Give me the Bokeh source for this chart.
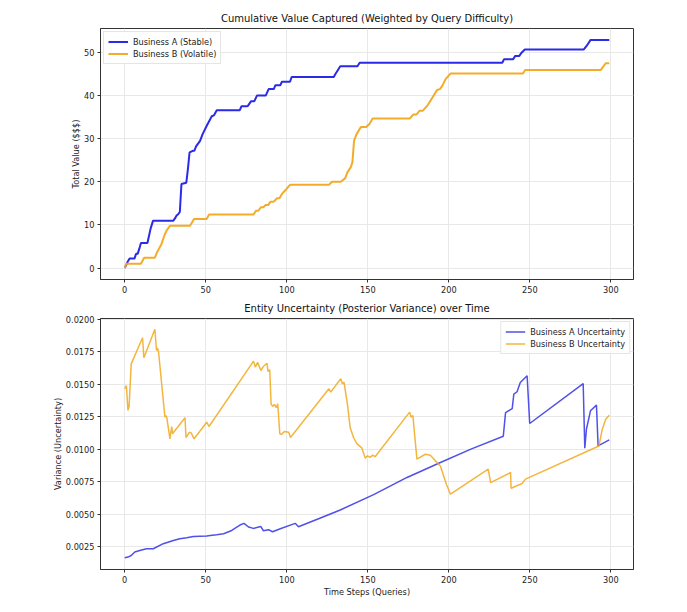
from bokeh.plotting import figure
from bokeh.layouts import column
from bokeh.models import Range1d, FixedTicker, PrintfTickFormatter, Legend, LegendItem
from bokeh.embed import file_html
from bokeh.resources import INLINE

# ---------------- data ----------------
steps_a = [0, 1, 2, 3, 6, 7, 8, 9, 10, 14, 15, 16, 17.5, 30, 31, 32, 33, 34, 35, 38,
           39, 40, 42, 43, 44, 46.5, 48, 50.6, 52, 53.7, 55, 56.8, 71, 72, 75, 76, 78,
           80, 81.6, 87, 88.8, 92, 93, 96, 97, 102, 103, 129, 130, 131, 133, 143.6, 145,
           233, 234, 239.6, 241, 243.5, 245, 246.9, 283.3, 285, 287.5, 299]
value_a = [0, 0.8, 1.6, 2.2, 2.2, 3.3, 3.3, 4.5, 5.8, 5.8, 7.5, 9.2, 11, 11, 11.5, 12.2,
           12.5, 13, 19.5, 19.8, 23, 26.8, 27.2, 27.2, 28.2, 29.5, 31, 33, 34, 35.2, 35.4,
           36.6, 36.6, 37.5, 37.5, 37.6, 38.7, 38.7, 40, 40, 41.5, 41.5, 42.4, 42.4, 43.2,
           43.2, 44.3, 44.3, 45, 45.6, 46.8, 46.8, 47.6, 47.6, 48.4, 48.4, 49.2, 49.2, 50,
           50.7, 50.7, 51.5, 52.9, 52.9]

steps_b = [0, 1, 10, 12, 18.6, 20, 22.7, 24.8, 26, 27.9, 40.3, 42.8, 50.6, 52, 79.5, 81,
           82.5, 84, 85.5, 87, 88.5, 90, 92, 94, 95.5, 97, 100, 102, 126, 128, 133.3, 136,
           137.4, 139.5, 140.5, 141.5, 143, 145.7, 149, 151, 153, 176, 178, 180, 182, 184,
           187, 190, 192.7, 194.5, 196, 198, 201, 245.8, 247, 293.7, 296.8, 299]
value_b = [0, 1.0, 1.0, 2.4, 2.4, 3.7, 5.6, 7.9, 8.8, 9.8, 9.8, 11.4, 11.4, 12.4, 12.4,
           13.3, 13.3, 14.1, 14.1, 14.6, 14.6, 15.4, 15.4, 16.2, 16.2, 17.2, 18.4, 19.3,
           19.3, 20, 20, 20.8, 22.2, 23.4, 24.5, 29.5, 31, 32.7, 32.7, 33.4, 34.7, 34.7,
           35.6, 35.6, 36.5, 36.5, 37.8, 39.6, 41.3, 41.5, 42.3, 43.8, 45.1, 45.1, 45.9,
           45.9, 47.5, 47.5]

var_steps_a = [0, 2, 4, 6.2, 9.3, 13.4, 17.6, 23.8, 30, 34, 38.2, 42.4, 50.6, 52.7, 56.8,
               61, 66, 71.1, 73.6, 76.4, 79.4, 83.9, 85.6, 88.7, 91.2, 96, 105.2, 107.2,
               120, 133, 153.6, 174.2, 194.8, 214, 233.6, 235, 239.1, 240.1, 242.1, 244.1,
               248.3, 249.9, 282.9, 283.9, 284.9, 287.4, 291.1, 292.1, 299]
var_a = [0.00163, 0.00168, 0.0018, 0.00207, 0.00219, 0.00232, 0.00232, 0.00271, 0.00296,
         0.00309, 0.00317, 0.00327, 0.0033, 0.00335, 0.0034, 0.00348, 0.00373, 0.00415,
         0.00428, 0.004, 0.00389, 0.00404, 0.00371, 0.00379, 0.00363, 0.00386, 0.00428,
         0.00402, 0.00465, 0.00531, 0.00649, 0.00782, 0.00897, 0.01002, 0.011, 0.01282,
         0.01313, 0.01424, 0.01443, 0.01514, 0.01566, 0.01198, 0.01506, 0.01008, 0.01154,
         0.01296, 0.0134, 0.01025, 0.01072]

var_steps_b = [0, 1, 2, 2.7, 4, 11, 11.8, 18.6, 19.6, 20.2, 20.9, 24.8, 25.4, 26, 27.9, 29,
               29.5, 37.2, 37.8, 39.9, 41, 42.8, 50.6, 52, 79.5, 80.6, 82, 84, 85.7, 87.8,
               88.4, 89.5, 90.3, 91.3, 92.4, 93.6, 94.4, 95.7, 96.7, 98.6, 101.2, 102.3, 126,
               127.1, 133.3, 134.3, 135.3, 137.4, 139.1, 141.2, 143.2, 146.3, 148.4, 149.8,
               151.4, 153, 154.5, 175.8, 176.8, 177.8, 180.3, 185.5, 188.6, 191.7, 194.8,
               196.8, 198.5, 201, 224.3, 225.8, 238.1, 238.4, 245.2, 247.3, 292.6, 294.7,
               296.8, 299]
var_b = [0.01466, 0.0149, 0.01299, 0.0133, 0.01658, 0.01859, 0.01705, 0.01925, 0.01761,
         0.0178, 0.01748, 0.01247, 0.0126, 0.01242, 0.0108, 0.01175, 0.01119, 0.01242,
         0.0109, 0.0113, 0.01126, 0.0108, 0.01208, 0.01175, 0.01679, 0.01633, 0.01671,
         0.01607, 0.0164, 0.01663, 0.016, 0.01612, 0.0135, 0.0133, 0.01345, 0.0132, 0.0135,
         0.01119, 0.01114, 0.01137, 0.0113, 0.0109, 0.01466, 0.0144, 0.01543, 0.01504,
         0.01517, 0.0135, 0.01167, 0.0109, 0.01043, 0.0101, 0.00931, 0.00949, 0.00936,
         0.00954, 0.00942, 0.01286, 0.01247, 0.0126, 0.00923, 0.00961, 0.00954, 0.0091,
         0.00871, 0.00794, 0.00729, 0.00653, 0.00846, 0.00742, 0.0082, 0.00699, 0.00735,
         0.00769, 0.01025, 0.01154, 0.01231, 0.01262]

x_ticks = [0, 50, 100, 150, 200, 250, 300]
value_ticks = [0, 10, 20, 30, 40, 50]
var_ticks = [0.0025, 0.005, 0.0075, 0.01, 0.0125, 0.015, 0.0175, 0.02]

title_top = "Cumulative Value Captured (Weighted by Query Difficulty)"
title_bottom = "Entity Uncertainty (Posterior Variance) over Time"
labels_top = ["Business A (Stable)", "Business B (Volatile)"]
labels_bottom = ["Business A Uncertainty", "Business B Uncertainty"]

BLUE = "#1f1fe6"
ORANGE = "#f2a81d"
FONT = "DejaVu Sans"
TXT = "8.2px"


def style(p, yticks):
    p.title.align = "center"
    p.title.text_font = FONT
    p.title.text_font_size = "10px"
    p.title.text_font_style = "normal"
    p.title.text_color = "#111111"
    p.outline_line_color = "#333333"
    p.outline_line_width = 1
    for ax in (p.xaxis[0], p.yaxis[0]):
        ax.axis_line_color = "#333333"
        ax.major_tick_line_color = "#333333"
        ax.major_tick_out = 3
        ax.major_tick_in = 0
        ax.minor_tick_line_color = None
        ax.major_label_text_font = FONT
        ax.major_label_text_font_size = TXT
        ax.major_label_text_color = "#222222"
        ax.axis_label_text_font = FONT
        ax.axis_label_text_font_size = TXT
        ax.axis_label_text_font_style = "normal"
        ax.axis_label_text_color = "#222222"
        ax.major_label_standoff = 3
    p.xaxis[0].axis_label_standoff = 1
    p.yaxis[0].axis_label_standoff = 0
    p.xaxis[0].ticker = FixedTicker(ticks=x_ticks)
    p.yaxis[0].ticker = FixedTicker(ticks=yticks)
    p.xgrid.grid_line_color = "#e8e8e8"
    p.ygrid.grid_line_color = "#e8e8e8"
    p.xgrid.ticker = FixedTicker(ticks=x_ticks)
    p.ygrid.ticker = FixedTicker(ticks=yticks)


def legend(p, items, loc):
    lg = Legend(items=items, location=loc)
    lg.label_text_font = FONT
    lg.label_text_font_size = TXT
    lg.label_text_color = "#222222"
    lg.label_height = 11
    lg.glyph_height = 11
    lg.glyph_width = 20
    lg.label_standoff = 5
    lg.spacing = 1
    lg.padding = 4
    lg.margin = 3
    lg.border_line_color = "#cccccc"
    lg.border_line_width = 1
    lg.background_fill_alpha = 0.85
    p.add_layout(lg)


p1 = figure(frame_width=533, frame_height=251, output_backend="svg", toolbar_location=None,
            x_range=Range1d(-14.95, 313.95), y_range=Range1d(-2.65, 55.55),
            title=title_top, min_border_left=100, min_border_right=30,
            min_border_top=28, min_border_bottom=16)
style(p1, value_ticks)
p1.yaxis.axis_label = "Total Value ($$$)"
ra = p1.line(steps_a, value_a, line_color=BLUE, line_width=2, line_alpha=0.95)
rb = p1.line(steps_b, value_b, line_color=ORANGE, line_width=2, line_alpha=0.95)
legend(p1, [LegendItem(label=labels_top[0], renderers=[ra]),
            LegendItem(label=labels_top[1], renderers=[rb])], "top_left")

p2 = figure(frame_width=533, frame_height=251, output_backend="svg", toolbar_location=None,
            x_range=Range1d(-14.95, 313.95), y_range=Range1d(0.00072, 0.02008),
            title=title_bottom, min_border_left=100, min_border_right=30,
            min_border_top=16, min_border_bottom=10)
style(p2, var_ticks)
p2.yaxis[0].formatter = PrintfTickFormatter(format="%.4f")
p2.yaxis.axis_label = "Variance (Uncertainty)"
p2.xaxis.axis_label = "Time Steps (Queries)"
va = p2.line(var_steps_a, var_a, line_color=BLUE, line_width=1.5, line_alpha=0.78)
vb = p2.line(var_steps_b, var_b, line_color=ORANGE, line_width=1.5, line_alpha=0.85)
legend(p2, [LegendItem(label=labels_bottom[0], renderers=[va]),
            LegendItem(label=labels_bottom[1], renderers=[vb])], "top_right")

layout = column(p1, p2)
open("out.html", "w").write(file_html(layout, INLINE))
